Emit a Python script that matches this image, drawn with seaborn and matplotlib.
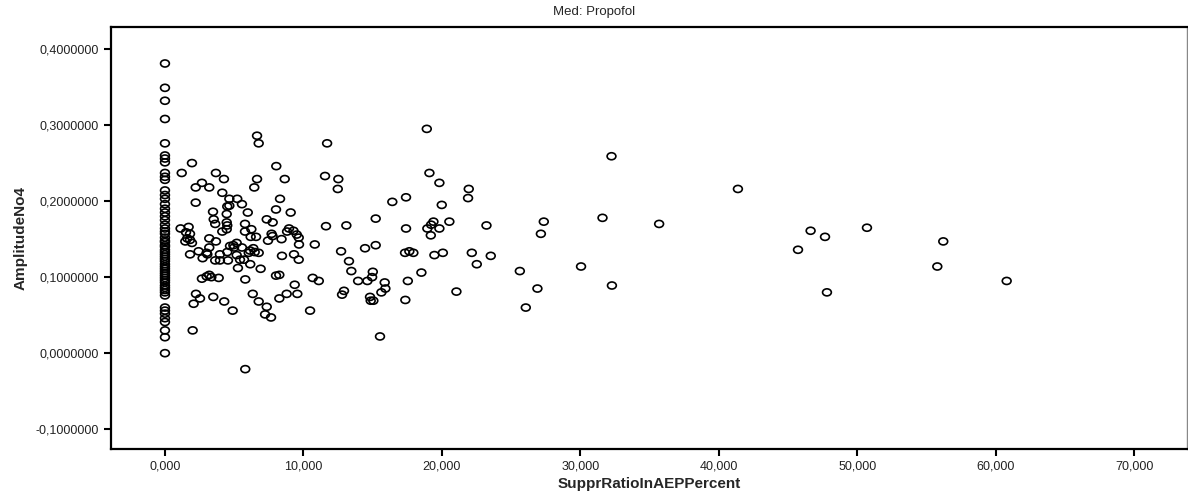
import matplotlib
matplotlib.use("Agg")
import matplotlib.pyplot as plt
import matplotlib.ticker as mticker
from matplotlib.path import Path
from matplotlib.transforms import Affine2D
import seaborn as sns
import pandas as pd

# points sitting exactly at SupprRatioInAEPPercent = 0
zero_amp = [0.381, 0.349, 0.332, 0.308, 0.276, 0.260, 0.256, 0.251, 0.237, 0.232,
            0.228, 0.214, 0.208, 0.203, 0.196, 0.190, 0.185, 0.180, 0.175, 0.169,
            0.164, 0.160, 0.157, 0.152, 0.148, 0.146, 0.142, 0.140, 0.136, 0.133,
            0.130, 0.127, 0.124, 0.121, 0.117, 0.114, 0.111, 0.108, 0.105, 0.102,
            0.099, 0.096, 0.093, 0.089, 0.086, 0.083, 0.080, 0.076, 0.060, 0.056,
            0.052, 0.046, 0.041, 0.030, 0.021, 0.000]

# remaining points (x in percent, y amplitude)
suppr = [1.21, 1.95, 2.67, 2.22, 3.20, 2.22, 3.68, 4.26, 4.14, 4.65,
         5.22, 4.65, 5.56, 4.50, 3.47, 4.46, 5.98, 3.52, 3.63, 4.46,
         4.50, 4.46, 4.14, 5.78, 5.78, 6.24, 6.19, 6.58, 6.65, 6.77,
         6.65, 6.45, 8.04, 8.65, 8.31, 8.02, 9.08, 7.35, 7.78, 7.70,
         7.77, 7.44, 8.42, 8.82, 8.96, 9.28, 9.52, 9.66, 9.68, 10.82,
         11.56, 11.71, 12.52, 12.48, 11.63, 13.10, 15.22, 16.42, 14.45, 15.22,
         12.72, 3.20, 1.13, 1.71, 1.52, 1.81, 1.61, 1.81, 1.47, 1.95,
         3.68, 2.43, 3.20, 3.01, 1.81, 2.72, 3.97, 4.70, 4.94, 5.18,
         4.99, 4.50, 5.56, 6.14, 6.38, 6.48, 6.05, 5.18, 6.77, 3.63,
         3.97, 4.55, 5.42, 5.71, 6.16, 5.27, 6.91, 8.45, 9.32, 9.66,
         2.67, 3.01, 3.20, 3.35, 3.88, 5.80, 8.02, 8.26, 9.37, 10.67,
         11.11, 2.24, 2.53, 2.07, 2.00, 3.49, 4.28, 4.89, 5.80, 6.34,
         6.77, 7.35, 7.23, 7.66, 8.26, 8.79, 9.56, 10.48, 12.79, 12.93,
         13.29, 13.46, 13.95, 14.62, 15.01, 14.96, 15.87, 15.92, 15.63, 14.81,
         14.86, 15.05, 15.53, 3.06,
         18.91, 19.10, 19.82, 21.94, 21.89, 17.41, 19.99, 17.41, 18.95, 19.22,
         19.39, 19.82, 19.20, 20.54, 23.22, 27.36, 27.15, 17.34, 17.65, 17.94,
         19.46, 20.07, 22.16, 23.53, 22.52, 17.54, 18.52, 25.63, 26.90, 21.05,
         17.36, 30.05, 32.25, 41.38, 31.60, 35.69, 45.72, 32.28, 26.06, 46.63,
         47.67, 50.70, 56.21, 55.78, 60.79, 47.81]
amp = [0.237, 0.250, 0.224, 0.218, 0.218, 0.198, 0.237, 0.229, 0.211, 0.203,
       0.203, 0.194, 0.196, 0.193, 0.186, 0.183, 0.185, 0.176, 0.170, 0.172,
       0.168, 0.163, 0.160, 0.170, 0.160, 0.163, 0.153, 0.153, 0.286, 0.276,
       0.229, 0.218, 0.246, 0.229, 0.203, 0.189, 0.185, 0.176, 0.172, 0.157,
       0.154, 0.148, 0.150, 0.160, 0.164, 0.161, 0.156, 0.152, 0.143, 0.143,
       0.233, 0.276, 0.229, 0.216, 0.167, 0.168, 0.177, 0.199, 0.138, 0.142,
       0.134, 0.151, 0.164, 0.166, 0.159, 0.157, 0.151, 0.149, 0.147, 0.145,
       0.147, 0.134, 0.139, 0.132, 0.130, 0.125, 0.130, 0.141, 0.142, 0.145,
       0.139, 0.133, 0.139, 0.135, 0.138, 0.133, 0.132, 0.129, 0.132, 0.122,
       0.122, 0.122, 0.123, 0.123, 0.117, 0.112, 0.111, 0.128, 0.130, 0.123,
       0.098, 0.101, 0.103, 0.100, 0.099, 0.097, 0.102, 0.103, 0.090, 0.099,
       0.095, 0.078, 0.072, 0.065, 0.030, 0.074, 0.068, 0.056, -0.021, 0.078,
       0.068, 0.061, 0.051, 0.047, 0.072, 0.078, 0.078, 0.056, 0.077, 0.082,
       0.121, 0.108, 0.095, 0.095, 0.107, 0.100, 0.093, 0.085, 0.080, 0.074,
       0.069, 0.069, 0.022, 0.130,
       0.295, 0.237, 0.224, 0.216, 0.204, 0.205, 0.195, 0.164, 0.164, 0.169,
       0.173, 0.164, 0.155, 0.173, 0.168, 0.173, 0.157, 0.132, 0.134, 0.132,
       0.129, 0.132, 0.132, 0.128, 0.117, 0.095, 0.106, 0.108, 0.085, 0.081,
       0.070, 0.114, 0.259, 0.216, 0.178, 0.170, 0.136, 0.089, 0.060, 0.161,
       0.153, 0.165, 0.147, 0.114, 0.095, 0.080]

df = pd.DataFrame({
    "SupprRatioInAEPPercent": [0.0] * len(zero_amp) + suppr,
    "AmplitudeNo4": zero_amp + amp,
})

sns.set_style("white")
plt.rcParams["font.family"] = ["Liberation Sans", "DejaVu Sans"]

# slightly flattened open circle, like the SPSS marker
ellipse = Path.unit_circle().transformed(Affine2D().scale(1.0, 0.8))

fig = plt.figure(figsize=(11.88, 4.97), dpi=100)
ax = fig.add_axes([0.0934, 0.0966, 0.9056, 0.8491])

sns.scatterplot(data=df, x="SupprRatioInAEPPercent", y="AmplitudeNo4", ax=ax,
                marker=ellipse, s=40, facecolor="none", edgecolor="black",
                linewidth=1.2)

ax.set_xlim(-3.9, 73.8)
ax.set_ylim(-0.126, 0.429)
ax.xaxis.set_major_locator(mticker.MultipleLocator(10))
ax.yaxis.set_major_locator(mticker.MultipleLocator(0.1))
ax.xaxis.set_major_formatter(mticker.FuncFormatter(lambda v, p: f"{v:.3f}".replace(".", ",")))
ax.yaxis.set_major_formatter(mticker.FuncFormatter(
    lambda v, p: f"{0.0 if abs(v) < 1e-9 else v:.7f}".replace(".", ",")))

ax.tick_params(axis="both", direction="out", length=5, width=1.5, colors="black",
               labelsize=9, labelcolor="#222222")
ax.tick_params(bottom=True, left=True)
for side in ["left", "bottom", "top"]:
    ax.spines[side].set_color("black")
    ax.spines[side].set_linewidth(1.6)
ax.spines["right"].set_color("#888888")
ax.spines["right"].set_linewidth(1.0)

ax.set_xlabel("SupprRatioInAEPPercent", fontsize=11, fontweight="bold", labelpad=3)
ax.set_ylabel("AmplitudeNo4", fontsize=11, fontweight="bold", labelpad=6)
fig.text(0.5, 0.975, "Med: Propofol", ha="center", va="center", fontsize=9.5)

fig.savefig("out.png", dpi=100)
